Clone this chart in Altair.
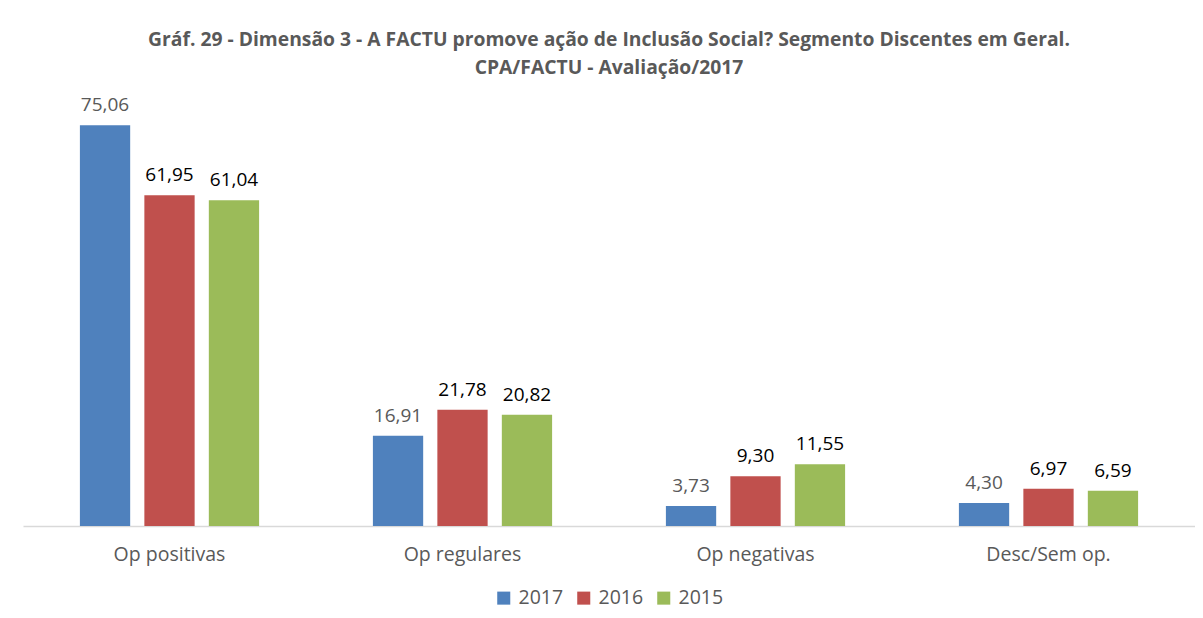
import altair as alt
import pandas as pd

categories = ["Op positivas", "Op regulares", "Op negativas", "Desc/Sem op."]
years = ["2017", "2016", "2015"]
values_2017 = [75.06, 16.91, 3.73, 4.30]
values_2016 = [61.95, 21.78, 9.30, 6.97]
values_2015 = [61.04, 20.82, 11.55, 6.59]
colors = ["#4F81BD", "#C0504D", "#9BBB59"]

rows = []
for yr, vals in zip(years, [values_2017, values_2016, values_2015]):
    for cat, v in zip(categories, vals):
        rows.append({"cat": cat, "year": yr, "value": v,
                     "label": f"{v:.2f}".replace(".", ",")})
df = pd.DataFrame(rows)

FONT = "Open Sans"

x = alt.X("cat:N", sort=categories, title=None,
          scale=alt.Scale(paddingInner=0.34, paddingOuter=0.17),
          axis=alt.Axis(labelAngle=0, ticks=False, domainColor="#D9D9D9",
                        domainWidth=1.5, labelFontSize=19.5, labelColor="#595959",
                        labelPadding=19, labelFont=FONT))
xo = alt.XOffset("year:N", sort=years,
                 scale=alt.Scale(paddingInner=0.22, paddingOuter=0.11))
y = alt.Y("value:Q", scale=alt.Scale(domain=[0, 80]), axis=None)

bars = alt.Chart(df).mark_bar().encode(
    x=x, xOffset=xo, y=y,
    color=alt.Color("year:N", sort=years,
                    scale=alt.Scale(domain=years, range=colors),
                    legend=alt.Legend(title=None, orient="none", direction="horizontal",
                                      legendX=471, legendY=489,
                                      symbolType="square", symbolSize=170,
                                      symbolStrokeWidth=0, labelFontSize=19.5,
                                      labelColor="#595959", labelFont=FONT,
                                      columnPadding=10, labelOffset=5)),
)

labels = alt.Chart(df).mark_text(baseline="bottom", dy=-10, fontSize=19, font=FONT).encode(
    x=x, xOffset=xo, y=y, text="label:N",
    color=alt.condition(alt.datum.year == "2017", alt.value("#595959"), alt.value("#000000")),
)

chart = alt.layer(bars, labels).properties(
    width=1172, height=427,
    padding={"left": 15, "top": 23, "right": 0, "bottom": 2},
    title=alt.TitleParams(
        text=["Gráf. 29 - Dimensão 3 - A FACTU promove ação de Inclusão Social? Segmento Discentes em Geral.",
              "CPA/FACTU - Avaliação/2017"],
        fontSize=19.3, fontWeight="bold", color="#595959", font=FONT,
        anchor="middle", lineHeight=28, offset=18),
).configure(background="white").configure_view(strokeWidth=0, stroke=None)

chart.save("out.html", embed_options={"renderer": "svg", "actions": False})
